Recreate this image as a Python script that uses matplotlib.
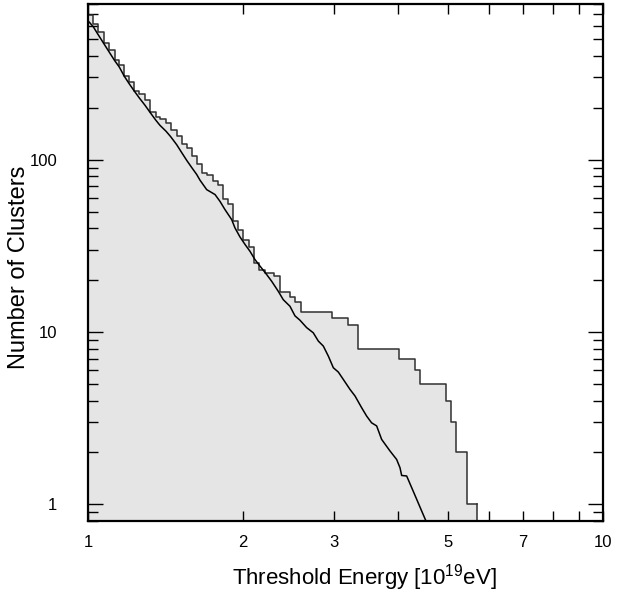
import numpy as np
import matplotlib
matplotlib.use('Agg')
import matplotlib.pyplot as plt
from matplotlib.ticker import FixedLocator, FixedFormatter, LogLocator, NullFormatter, FuncFormatter

plt.rcParams['font.family'] = ['Liberation Sans', 'DejaVu Sans']
plt.rcParams['mathtext.default'] = 'regular'

# cumulative cluster counts: count holds from step_E[i] up to step_E[i+1]
step_E = [1.000, 1.024, 1.047, 1.074, 1.100, 1.127, 1.150, 1.176, 1.203, 1.230,
          1.258, 1.290, 1.320, 1.353, 1.380, 1.418, 1.447, 1.487, 1.520, 1.555,
          1.590, 1.626, 1.663, 1.705, 1.746, 1.786, 1.826, 1.867, 1.915, 1.959,
          2.003, 2.054, 2.101, 2.148, 2.207, 2.300, 2.359, 2.467, 2.523, 2.588,
          2.972, 3.192, 3.338, 4.023, 4.315, 4.413, 4.951, 5.076, 5.190, 5.437,
          5.694]
step_N = [693, 614, 547, 475, 434, 380, 352, 304, 281, 251,
          241, 221, 189, 177, 173, 163, 149, 137, 124, 117,
          105, 94, 84, 81, 75, 71, 59, 55, 44, 39,
          34, 31, 25, 23, 22, 21, 17, 16, 15, 13,
          12, 11, 8, 7, 6, 5, 4, 3, 2, 1]

# expected curve
curve_E = [1.000, 1.024, 1.047, 1.074, 1.100, 1.127, 1.150, 1.176, 1.203, 1.230,
           1.258, 1.290, 1.320, 1.353, 1.380, 1.418, 1.447, 1.487, 1.520, 1.555,
           1.590, 1.626, 1.650, 1.700, 1.765, 1.804, 1.845, 1.901, 1.929, 1.973,
           2.018, 2.063, 2.110, 2.158, 2.224, 2.273, 2.342, 2.394, 2.467, 2.523,
           2.580, 2.658, 2.738, 2.801, 2.864, 2.929, 2.995, 3.063, 3.132, 3.227,
           3.300, 3.400, 3.476, 3.554, 3.635, 3.717, 3.858, 3.975, 4.035, 4.065,
           4.157, 4.251, 4.347, 4.445, 4.532]
curve_N = [640, 590, 530, 470, 420, 375, 345, 305, 275, 250,
           228, 207, 188, 170, 158, 146, 136, 122, 110, 99,
           90, 82, 76, 67, 62.7, 57.3, 51.3, 44.9, 40.2, 35.6,
           32.2, 29.4, 26.3, 24.1, 21.5, 19.7, 17.2, 15.4, 14.1, 12.4,
           11.7, 10.6, 9.89, 8.85, 8.28, 7.24, 6.20, 5.85, 5.30, 4.64,
           4.25, 3.63, 3.25, 2.97, 2.85, 2.38, 2.04, 1.82, 1.63, 1.47,
           1.46, 1.25, 1.07, 0.915, 0.80]

x_ticks = [1, 2, 3, 4, 5, 6, 7, 8, 9, 10]
x_labels = ['1', '2', '3', '', '5', '', '7', '', '', '10']
y_min, y_max = 0.8, 800

fig = plt.figure(figsize=(6.17, 5.97), dpi=100)
ax = fig.add_axes([0.1426, 0.1273, 0.8347, 0.866])

# pad last level so the step shape reaches the final edge, then drop to bottom
sx = np.array(step_E)
sy = np.array(step_N + [step_N[-1]], dtype=float)
ax.fill_between(sx, sy, y_min * 0.5, step='post', color='#e5e5e5', lw=0)
ax.step(sx, sy, where='post', color='#303030', lw=1.1)
ax.plot([sx[-1], sx[-1]], [sy[-1], y_min * 0.5], color='#303030', lw=1.1)

ax.plot(curve_E, curve_N, color='black', lw=1.1)

ax.set_xscale('log')
ax.set_yscale('log')
ax.set_xlim(1, 10)
ax.set_ylim(y_min, y_max)

ax.xaxis.set_major_locator(FixedLocator(x_ticks))
ax.xaxis.set_major_formatter(FixedFormatter(x_labels))
ax.xaxis.set_minor_locator(FixedLocator([]))
ax.yaxis.set_major_locator(LogLocator(base=10))
ax.yaxis.set_major_formatter(FuncFormatter(lambda v, p: '%g' % v))
ax.yaxis.set_minor_locator(LogLocator(base=10, subs=np.arange(2, 10)))
ax.yaxis.set_minor_formatter(NullFormatter())

ax.tick_params(which='both', direction='in', top=True, right=True, width=1.0,
               labelsize=12, colors='black')
ax.tick_params(axis='x', which='major', length=7, pad=10)
ax.tick_params(axis='y', which='major', length=11, pad=22)
ax.tick_params(axis='y', which='minor', length=7)

for s in ax.spines.values():
    s.set_linewidth(1.6)

ax.set_xlabel('Threshold Energy [10$^{19}$eV]', fontsize=16)
ax.xaxis.set_label_coords(0.536, -0.08)
ax.set_ylabel('Number of Clusters', fontsize=17)
ax.yaxis.set_label_coords(-0.113, 0.49)

fig.savefig('out.png', dpi=100)
